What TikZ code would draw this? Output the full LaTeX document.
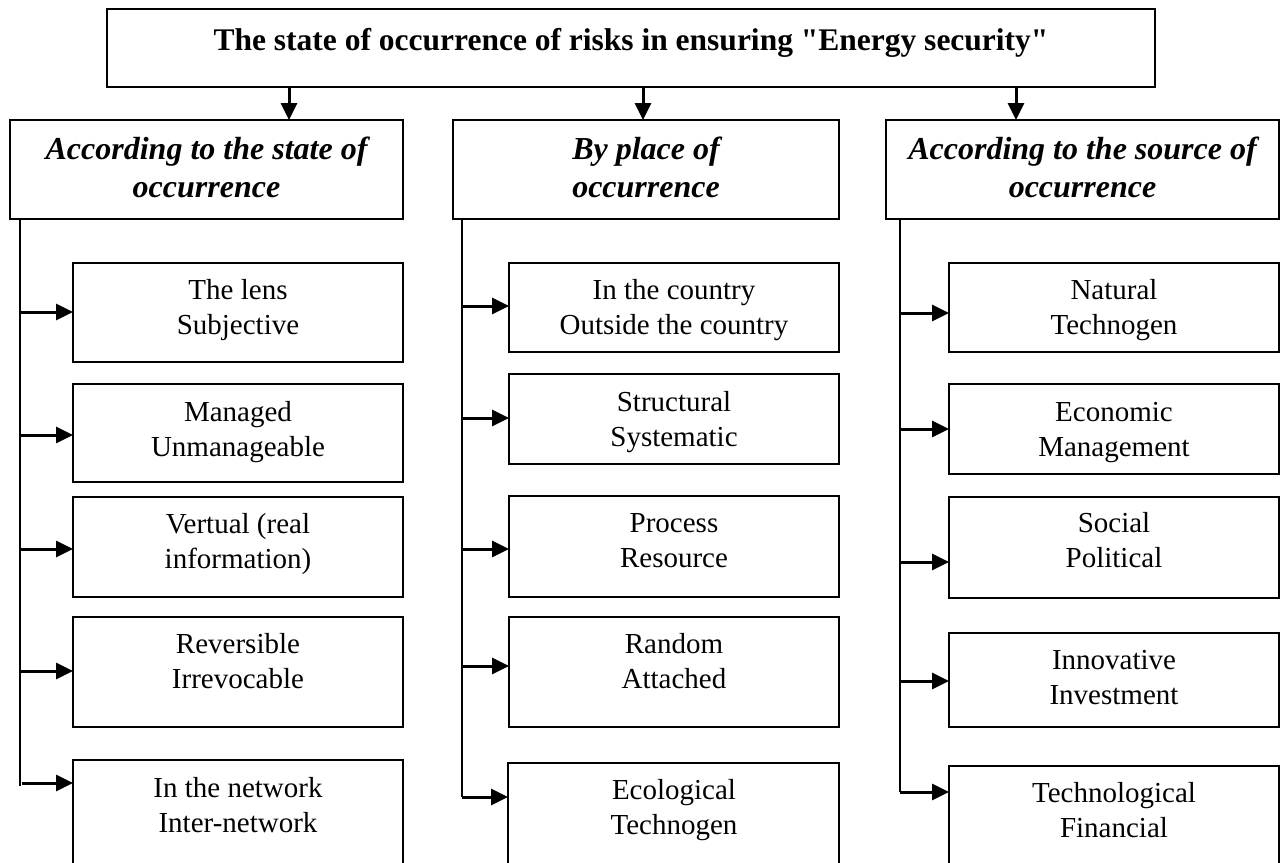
\documentclass[tikz,border=0pt]{standalone}
\usepackage{fontspec}
\setmainfont{Liberation Serif}[Ligatures=TeXOff]
\usetikzlibrary{arrows.meta}
\newcommand\kbox[5]{\node[box,minimum width={#4pt-#2pt},minimum height={#5pt-#3pt}] (#1) at (#2,#3) {};}
\begin{document}
\begin{tikzpicture}[x=1pt,y=-1pt,
  box/.style={draw,line width=2pt,inner sep=0pt,outer sep=0pt,anchor=north west},
  txt/.style={anchor=base,align=center,inner sep=0pt,font=\fontsize{29}{34.5}\selectfont},
  cattxt/.style={anchor=base,align=center,inner sep=0pt,font=\bfseries\itshape\fontsize{32}{38}\selectfont},
  titletxt/.style={anchor=base,inner sep=0pt,font=\bfseries\fontsize{31.5}{38}\selectfont},
  vline/.style={line width=2.2pt},
  arr/.style={line width=3pt,-{Triangle[length=17pt,width=16pt]}}]
\clip (0,0) rectangle (1281,862);
\fill[white] (0,0) rectangle (1281,862);
% top
\kbox{top}{107}{9}{1155}{87}
\node[titletxt] (toptext) at (631,50) {The state of occurrence of risks in ensuring "Energy security"};
% categories
\kbox{catL}{10}{120}{403}{219}
\kbox{catM}{453}{120}{839}{219}
\kbox{catR}{886}{120}{1279}{219}
\node[cattxt] (catLt) at (206.5,197) {According to the state of\\occurrence};
\node[cattxt] (catMt) at (646,197) {By place of\\occurrence};
\node[cattxt] (catRt) at (1082.5,197) {According to the source of\\occurrence};
% top arrows
\coordinate (t1) at (289,87);
\coordinate (t2) at (643,87);
\coordinate (t3) at (1016,87);
\draw[arr] (t1) -- (t1 |- catL.north);
\draw[arr] (t2) -- (t2 |- catM.north);
\draw[arr] (t3) -- (t3 |- catR.north);
% left column
\kbox{L1}{73}{263}{403}{362}
\kbox{L2}{73}{384}{403}{482}
\kbox{L3}{73}{497}{403}{597}
\kbox{L4}{73}{617}{403}{727}
\kbox{L5}{73}{760}{403}{875}
\node[txt] (L1t) at (238,334) {The lens\\Subjective};
\node[txt] (L2t) at (238,456) {Managed\\Unmanageable};
\node[txt] (L3t) at (238,568) {Vertual (real\\information)};
\node[txt] (L4t) at (238,688) {Reversible\\Irrevocable};
\node[txt] (L5t) at (238,832) {In the network\\Inter-network};
\coordinate (vLtop) at (20,219);
\coordinate (vLbot) at (20,786);
\draw[vline] (vLtop) -- (vLbot);
\coordinate (aL1) at (20,312);
\coordinate (aL2) at (20,435);
\coordinate (aL3) at (20,549);
\coordinate (aL4) at (20,671);
\coordinate (aL5) at (22,783);
\draw[arr] (aL1) -- (aL1 -| L1.west);
\draw[arr] (aL2) -- (aL2 -| L2.west);
\draw[arr] (aL3) -- (aL3 -| L3.west);
\draw[arr] (aL4) -- (aL4 -| L4.west);
\draw[arr] (aL5) -- (aL5 -| L5.west);
% middle column
\kbox{M1}{509}{263}{839}{352}
\kbox{M2}{509}{374}{839}{464}
\kbox{M3}{509}{496}{839}{597}
\kbox{M4}{509}{617}{839}{727}
\kbox{M5}{508}{763}{839}{875}
\node[txt] (M1t) at (674,334) {In the country\\Outside the country};
\node[txt] (M2t) at (674,446) {Structural\\Systematic};
\node[txt] (M3t) at (674,567) {Process\\Resource};
\node[txt] (M4t) at (674,688) {Random\\Attached};
\node[txt] (M5t) at (674,834) {Ecological\\Technogen};
\coordinate (vMtop) at (462,219);
\coordinate (aM1) at (462,306);
\coordinate (aM2) at (462,418);
\coordinate (aM3) at (462,549);
\coordinate (aM4) at (462,666);
\coordinate (aM5) at (462,797);
\draw[vline] (vMtop) -- (aM5);
\draw[arr] (aM1) -- (aM1 -| M1.west);
\draw[arr] (aM2) -- (aM2 -| M2.west);
\draw[arr] (aM3) -- (aM3 -| M3.west);
\draw[arr] (aM4) -- (aM4 -| M4.west);
\draw[arr] (aM5) -- (aM5 -| M5.west);
% right column
\kbox{R1}{949}{263}{1279}{352}
\kbox{R2}{949}{384}{1279}{474}
\kbox{R3}{949}{497}{1279}{598}
\kbox{R4}{949}{633}{1279}{727}
\kbox{R5}{949}{766}{1279}{875}
\node[txt] (R1t) at (1114,334) {Natural\\Technogen};
\node[txt] (R2t) at (1114,456) {Economic\\Management};
\node[txt] (R3t) at (1114,567) {Social\\Political};
\node[txt] (R4t) at (1114,704) {Innovative\\Investment};
\node[txt] (R5t) at (1114,837) {Technological\\Financial};
\coordinate (vRtop) at (900,219);
\coordinate (aR1) at (900,313);
\coordinate (aR2) at (900,429);
\coordinate (aR3) at (900,562);
\coordinate (aR4) at (900,681);
\coordinate (aR5) at (900,792);
\draw[vline] (vRtop) -- (aR5);
\draw[arr] (aR1) -- (aR1 -| R1.west);
\draw[arr] (aR2) -- (aR2 -| R2.west);
\draw[arr] (aR3) -- (aR3 -| R3.west);
\draw[arr] (aR4) -- (aR4 -| R4.west);
\draw[arr] (aR5) -- (aR5 -| R5.west);
\end{tikzpicture}
\end{document}
